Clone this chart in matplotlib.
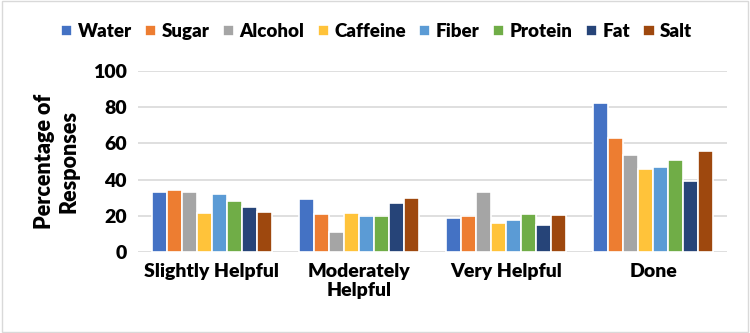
import numpy as np
import matplotlib.pyplot as plt
from matplotlib.patches import Rectangle

# --- data ---
categories = ["Slightly Helpful", "Moderately\nHelpful", "Very Helpful", "Done"]
series = ["Water", "Sugar", "Alcohol", "Caffeine", "Fiber", "Protein", "Fat", "Salt"]
water = [33, 29.5, 19, 82.5]
sugar = [34, 21, 20, 63]
alcohol = [33, 11, 33, 53.5]
caffeine = [21.5, 21.5, 16, 46]
fiber = [32, 20, 17.5, 47]
protein = [28, 20, 21, 51]
fat = [25, 27, 15, 39]
salt = [22, 30, 20.5, 56]
values = [water, sugar, alcohol, caffeine, fiber, protein, fat, salt]
colors = ["#4472C4", "#ED7D31", "#A5A5A5", "#FFC33A", "#5B9BD5", "#70AD47", "#264478", "#9E480E"]

plt.rcParams['font.family'] = ['Lato', 'DejaVu Sans']

fig = plt.figure(figsize=(7.5, 3.33), dpi=100)
ax = fig.add_axes([0.184, 0.243, 0.785, 0.544])

x = np.arange(len(categories))
slot = 0.102
for i, (name, vals) in enumerate(zip(series, values)):
    offs = (i - 3.5) * slot
    ax.bar(x + offs, vals, width=slot, color=colors[i], edgecolor='white',
           linewidth=1.2, label=name, zorder=3)

ax.set_ylim(0, 100)
ax.set_xlim(-0.5, 3.5)
ax.set_yticks(range(0, 101, 20))
ax.set_xticks(x)
ax.set_xticklabels(categories, fontsize=14, fontweight='heavy', linespacing=1.1)
for lbl in ax.get_yticklabels():
    lbl.set_fontsize(14)
    lbl.set_fontweight('heavy')
ax.tick_params(length=0, pad=8)
ax.grid(axis='y', color='#D9D9D9', linewidth=1.2, zorder=0)
for s in ax.spines.values():
    s.set_visible(False)
ax.set_ylabel("Percentage of\nResponses", fontsize=15.5, fontweight='heavy', labelpad=10)

fig.legend(loc='center', bbox_to_anchor=(0.502, 0.905), ncol=8, frameon=False,
           prop={'size': 13.5, 'weight': 'heavy'}, handlelength=0.6, handleheight=0.6,
           handletextpad=0.3, columnspacing=0.7)

fig.patches.append(Rectangle((0.002, 0.003), 0.995, 0.993, transform=fig.transFigure,
                             fill=False, edgecolor='#D9D9D9', linewidth=1))

fig.savefig("out.png", dpi=100)
